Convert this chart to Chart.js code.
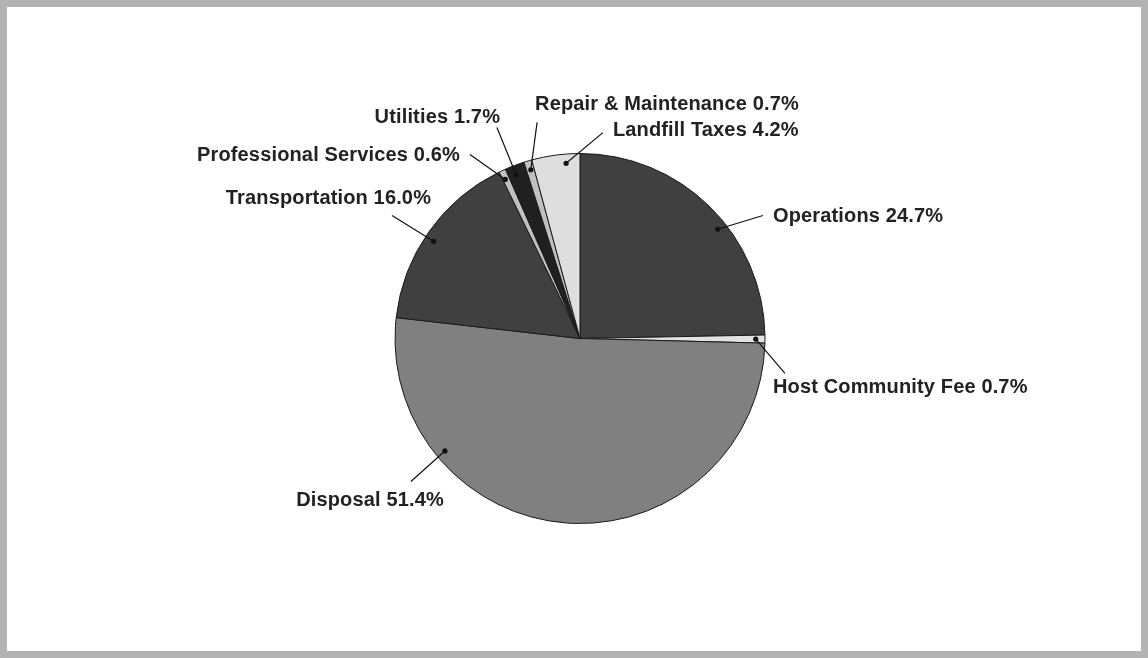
<!DOCTYPE html>
<html>
<head>
<meta charset="utf-8">
<script src="https://cdn.jsdelivr.net/npm/chart.js@4/dist/chart.umd.min.js"></script>
<style>
  html, body { margin: 0; padding: 0; background: #fff; }
  #frame {
    width: 1148px; height: 658px; box-sizing: border-box;
    border: 7px solid #b3b3b3; background: #fff; position: relative;
  }
  #frame canvas { display: block; }
</style>
</head>
<body>
<div id="frame"><canvas id="pie" width="1134" height="644"></canvas></div>
<script>
// Cost categories, clockwise from 12 o'clock
const categories = [
  'Operations', 'Host Community Fee', 'Disposal', 'Transportation',
  'Professional Services', 'Utilities', 'Repair & Maintenance', 'Landfill Taxes'
];
// Share of total cost, percent
const shares = [24.7, 0.7, 51.4, 16.0, 0.6, 1.7, 0.7, 4.2];
// Slice fills
const fills = ['#404040', '#e2e2e2', '#808080', '#404040', '#c0c0c0', '#202020', '#c0c0c0', '#dedede'];

// Label placement, in units of the pie radius relative to its centre:
// where along the slice the dot sits (0..1), the leader's outer end, and the text anchor.
const labelLayout = [
  { along: 0.58, lx: 0.989, ly: -0.665, tx: 1.043, ty: -0.659, align: 'left' },
  { along: 0.50, lx: 1.108, ly: 0.189, tx: 1.043, ty: 0.265, align: 'left' },
  { along: 0.75, lx: -0.914, ly: 0.773, tx: -1.135, ty: 0.876, align: 'center' },
  { along: 0.47, lx: -1.016, ly: -0.665, tx: -0.805, ty: -0.757, align: 'right' },
  { along: 0.35, lx: -0.595, ly: -0.995, tx: -0.649, ty: -0.989, align: 'right' },
  { along: 0.40, lx: -0.449, ly: -1.140, tx: -0.432, ty: -1.195, align: 'right' },
  { along: 0.55, lx: -0.232, ly: -1.168, tx: -0.243, ty: -1.265, align: 'left' },
  { along: 0.70, lx: 0.124, ly: -1.113, tx: 0.178, ty: -1.124, align: 'left' }
];

const leaderLabels = {
  id: 'leaderLabels',
  afterDatasetsDraw(chart) {
    const ctx = chart.ctx;
    const meta = chart.getDatasetMeta(0);
    ctx.save();
    ctx.font = 'bold 20px "Liberation Sans", Arial, sans-serif';
    ctx.letterSpacing = '0.15px';
    ctx.textBaseline = 'middle';
    meta.data.forEach((arc, i) => {
      const p = arc.getProps(['x', 'y', 'startAngle', 'endAngle', 'outerRadius'], true);
      const L = labelLayout[i];
      const r = p.outerRadius;
      const a = p.startAngle + (p.endAngle - p.startAngle) * L.along;
      const dx = p.x + Math.cos(a) * r * 0.95;
      const dy = p.y + Math.sin(a) * r * 0.95;
      const ex = p.x + L.lx * r, ey = p.y + L.ly * r;
      ctx.strokeStyle = '#111';
      ctx.lineWidth = 1.2;
      ctx.beginPath();
      ctx.moveTo(dx, dy);
      ctx.lineTo(ex, ey);
      ctx.stroke();
      ctx.fillStyle = '#111';
      ctx.beginPath();
      ctx.arc(dx, dy, 2.6, 0, Math.PI * 2);
      ctx.fill();
      ctx.fillStyle = '#222';
      ctx.textAlign = L.align;
      ctx.fillText(categories[i] + ' ' + shares[i].toFixed(1) + '%', p.x + L.tx * r, p.y + L.ty * r);
    });
    ctx.restore();
  }
};

new Chart(document.getElementById('pie'), {
  type: 'pie',
  data: {
    labels: categories,
    datasets: [{
      data: shares,
      backgroundColor: fills,
      borderColor: '#1a1a1a',
      borderWidth: 1
    }]
  },
  options: {
    responsive: false,
    animation: false,
    layout: { padding: { top: 146, bottom: 127, left: 200, right: 188 } },
    plugins: {
      legend: { display: false },
      tooltip: { enabled: false }
    }
  },
  plugins: [leaderLabels]
});
</script>
</body>
</html>
